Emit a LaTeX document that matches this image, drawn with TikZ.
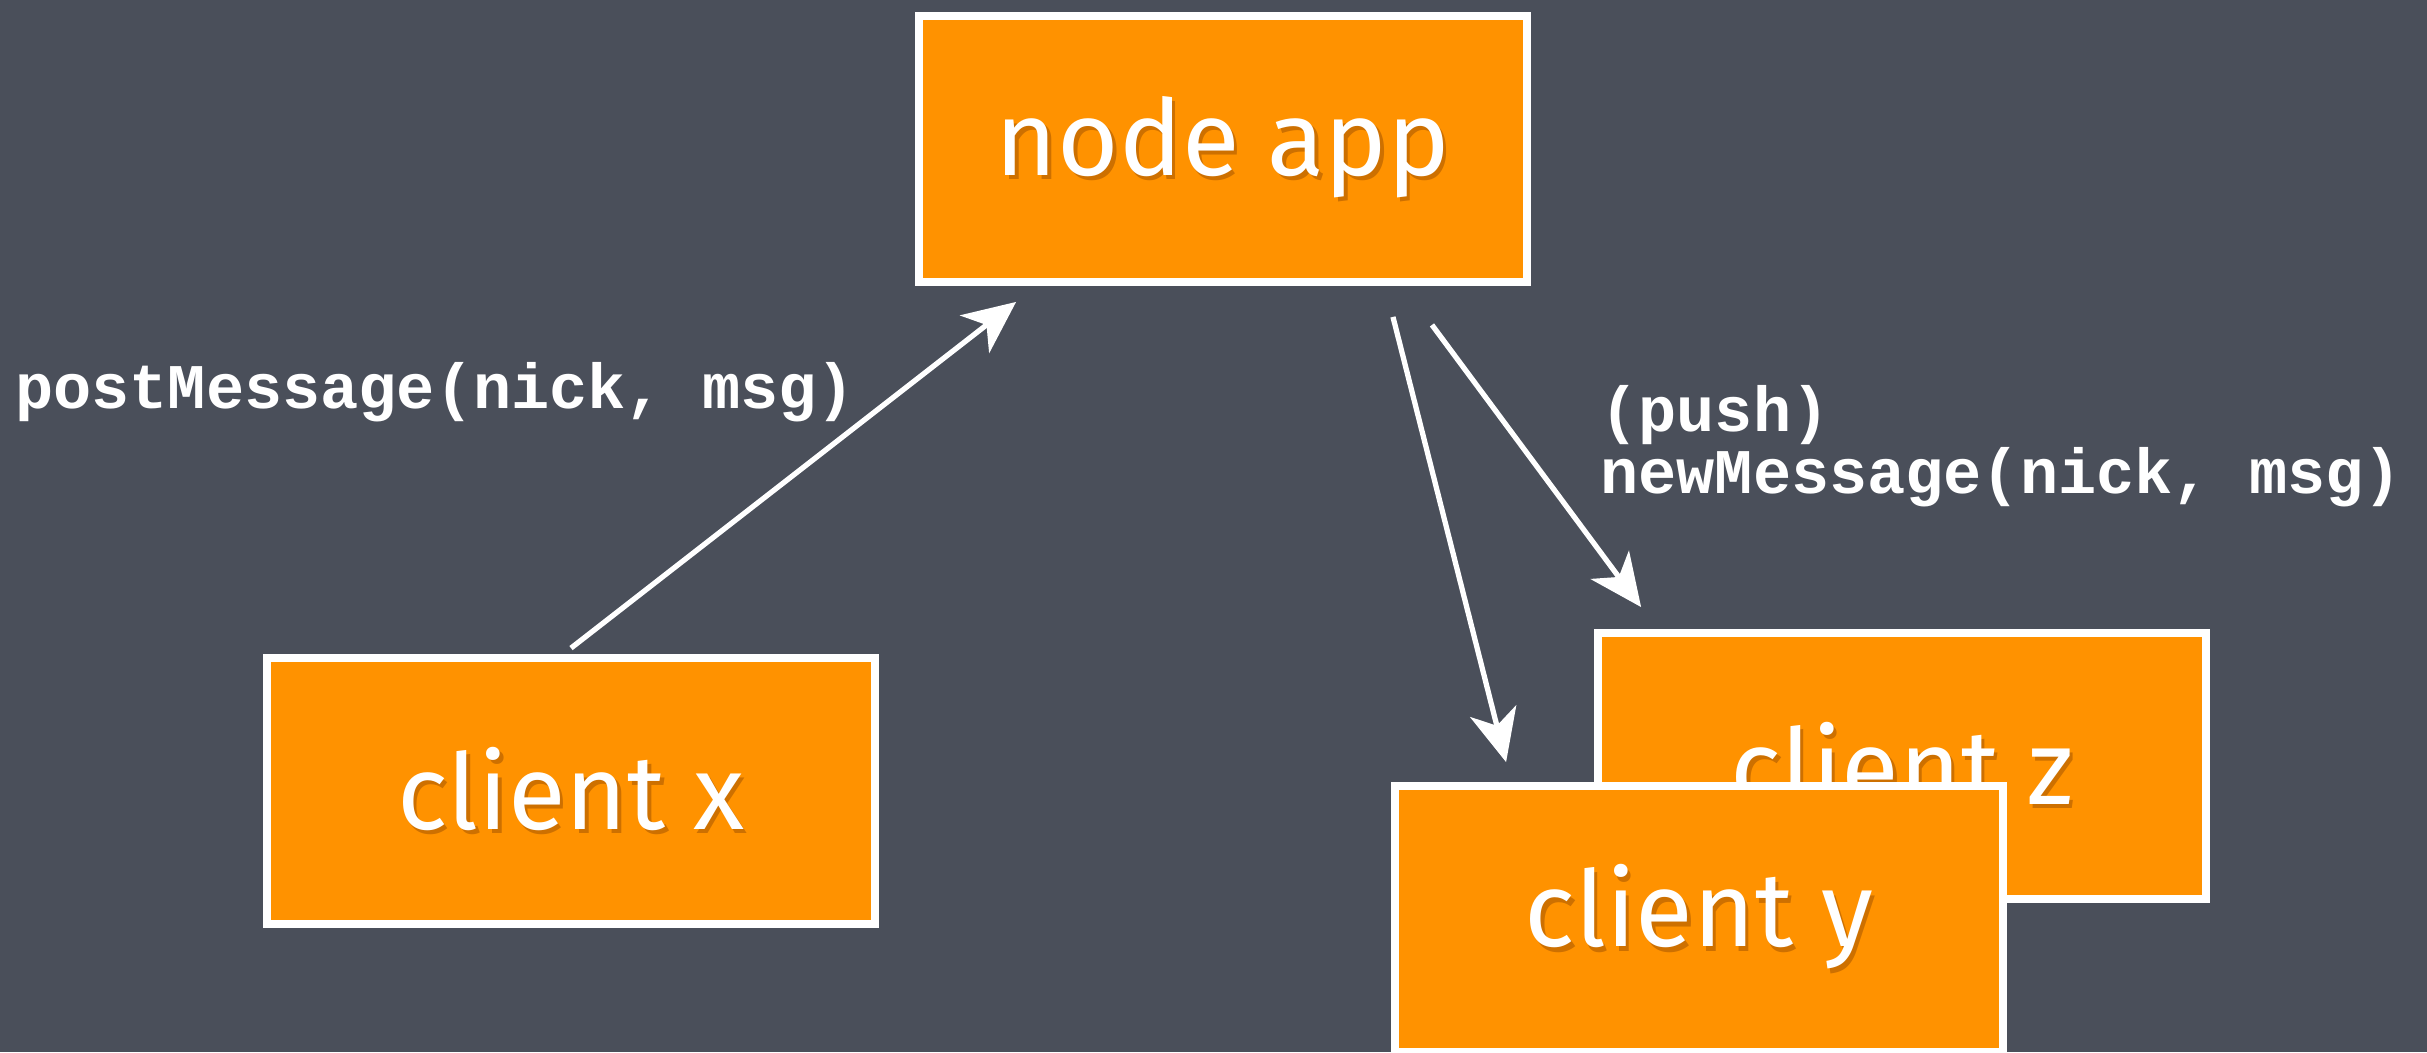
\documentclass[tikz,border=0pt]{standalone}
\usepackage{fontspec}
\usetikzlibrary{arrows.meta,positioning,calc}
\newfontfamily\boxfont{Fira Sans}
\newfontfamily\codefont{Liberation Mono}
\definecolor{board}{RGB}{74,79,90}
\definecolor{slab}{RGB}{255,146,0}
\definecolor{slabshade}{RGB}{205,112,0}
% white lettering with a soft drop shadow
\newcommand{\chalktext}[1]{\makebox[0pt][l]{\hspace{2pt}\raisebox{-2.5pt}{\color{slabshade}#1}}#1}

\begin{document}
\begin{tikzpicture}[x=0.02cm, y=-0.02cm,
  chalkbox/.style={draw=white, line width=4.5pt, fill=slab, text=white,
    minimum width=12.16cm, minimum height=5.32cm,
    font=\fontsize{60}{64}\selectfont\boxfont},
  code/.style={text=white, inner sep=0pt, align=left,
    font=\fontsize{36.2}{35.5}\selectfont\codefont\bfseries},
  chalk/.style={draw=white, line width=3pt,
    -{Stealth[length=1.05cm, width=0.95cm, inset=0.3cm]}}]
\useasboundingbox[fill=board] (0,0) rectangle (2427,1052);
% the server and the three clients
\node[chalkbox] (app) at (1223,149) {\chalktext{node app}};
\node[chalkbox] (cx) at (571,791) {\chalktext{client x}};
\node[chalkbox] (cz) at (1902,766) {\chalktext{client z}};
\node[chalkbox] (cy) at (1699,919) {\chalktext{client y}};
% calls
\draw[chalk] ([yshift=0.12cm]cx.north)
  -- ([xshift=2.02cm, yshift=-0.32cm]app.south west);
\draw[chalk] ([xshift=3.4cm, yshift=-0.62cm]app.south)
  -- ([xshift=2.3cm, yshift=0.4cm]cy.north west);
\draw[chalk] ([xshift=4.18cm, yshift=-0.78cm]app.south)
  -- ([xshift=0.94cm, yshift=0.44cm]cz.north west);
\node[code, anchor=west] (post) at (15,392) {postMessage(nick, msg)};
\node[code, anchor=west] (push) at (1600,446) {(push)\\newMessage(nick, msg)};
\end{tikzpicture}
\end{document}
